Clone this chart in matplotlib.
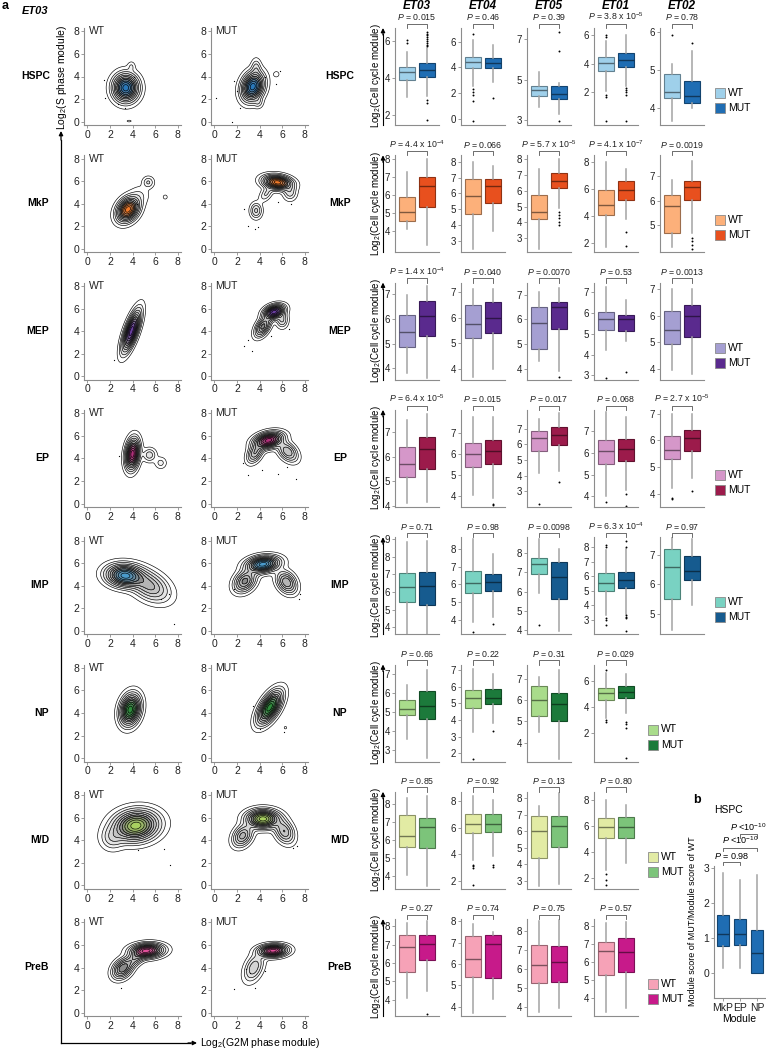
import numpy as np
import matplotlib.pyplot as plt
from matplotlib.patches import Rectangle, FancyArrowPatch
from matplotlib.colors import to_rgb
import matplotlib.transforms as mtransforms

plt.rcParams['font.family'] = ['Liberation Sans', 'DejaVu Sans']
plt.rcParams['mathtext.fontset'] = 'custom'
plt.rcParams['mathtext.rm'] = 'Liberation Sans'
plt.rcParams['mathtext.it'] = 'Liberation Sans:italic'
plt.rcParams['mathtext.bf'] = 'Liberation Sans:bold'

# ---------------------------------------------------------------------------
# data
# ---------------------------------------------------------------------------
patients = ['ET03', 'ET04', 'ET05', 'ET01', 'ET02']
cell_types = ['HSPC', 'MkP', 'MEP', 'EP', 'IMP', 'NP', 'M/D', 'PreB']

# box stats per patient: (whisker low, q1, median, q3, whisker high)
hspc_wt = [(2.95, 3.9, 4.3, 4.6, 5.4), (2.6, 3.92, 4.43, 4.82, 6.1), (3.65, 4.2, 4.5, 4.7, 5.35),
           (2.1, 3.5, 4.05, 4.5, 5.6), (3.65, 4.25, 4.42, 4.9, 5.15)]
hspc_mut = [(3.0, 4.07, 4.43, 4.8, 5.6), (2.9, 3.95, 4.35, 4.75, 5.7), (3.3, 4.05, 4.3, 4.7, 4.85),
            (2.4, 3.8, 4.25, 4.75, 6.0), (4.0, 4.12, 4.32, 4.7, 5.5)]
hspc_wt_out = [[6.05, 5.9], [6.6, 2.3, 2.1, 1.9, 1.4, -0.15], [], [6.0, 5.9, 1.8, 1.65, 0.0], [5.92]]
hspc_mut_out = [[6.5, 6.4, 6.3, 6.2, 6.1, 6.0, 5.9, 5.8, 5.7, 2.8, 2.65, 1.7], [1.6], [7.35, 6.4, 2.95],
                [2.3, 2.15, 2.0, 1.8, 0.0], [5.7]]
hspc_p = ['0.015', '0.46', '0.39', '3.8 x 10$^{-5}$', '0.78']
hspc_ylim = [(1.45, 6.7), (-0.45, 7.05), (2.75, 7.55), (-0.3, 6.5), (3.55, 6.1)]
hspc_ticks = [[2, 4, 6], [0, 2, 4, 6], [3, 5, 7], [2, 4, 6], [4, 5, 6]]

mkp_wt = [(4.1, 4.55, 5.05, 5.9, 7.25), (2.5, 4.7, 5.85, 6.9, 8.0), (2.3, 4.2, 4.65, 5.75, 7.4),
          (1.7, 4.1, 4.8, 5.95, 8.0), (4.1, 4.7, 5.8, 6.25, 6.85)]
mkp_mut = [(3.2, 5.3, 6.5, 7.0, 8.0), (3.65, 5.4, 6.45, 6.9, 7.75), (4.9, 6.2, 6.65, 7.1, 8.0),
           (3.8, 5.15, 5.95, 6.6, 7.45), (4.7, 6.05, 6.55, 6.8, 7.6)]
mkp_wt_out = [[], [], [], [], []]
mkp_mut_out = [[], [], [4.65, 4.45, 4.25, 4.05, 3.85], [2.8, 1.8], [4.5, 4.35, 4.2, 4.05]]
mkp_p = ['4.4 x 10$^{-4}$', '0.066', '5.7 x 10$^{-5}$', '4.1 x 10$^{-7}$', '0.0019']
mkp_ylim = [(2.8, 8.2), (2.3, 8.4), (2.1, 8.25), (1.3, 8.5), (3.9, 7.85)]
mkp_ticks = [[4, 5, 6, 7, 8], [3, 4, 5, 6, 7, 8], [3, 4, 5, 6, 7, 8], [2, 4, 6, 8], [5, 6, 7]]

mep_wt = [(3.8, 4.85, 5.45, 6.15, 6.95), (3.7, 5.2, 5.75, 6.5, 7.1), (4.3, 4.8, 5.85, 6.5, 7.1),
          (4.2, 5.2, 5.7, 6.05, 7.25), (3.95, 4.95, 5.45, 6.2, 7.0)]
mep_mut = [(3.6, 5.3, 6.1, 6.7, 7.3), (4.0, 5.4, 6.0, 6.6, 7.1), (3.9, 5.6, 6.5, 6.7, 7.3),
           (4.65, 5.15, 5.7, 5.9, 6.6), (3.8, 5.2, 6.0, 6.4, 7.0)]
mep_wt_out = [[], [], [], [2.9], []]
mep_mut_out = [[], [], [3.65], [3.15], []]
mep_p = ['1.4 x 10$^{-4}$', '0.040', '0.0070', '0.53', '0.0013']
mep_ylim = [(3.55, 7.45), (3.6, 7.35), (3.55, 7.5), (2.8, 7.45), (3.6, 7.25)]
mep_ticks = [[4, 5, 6, 7], [4, 5, 6, 7], [4, 5, 6, 7], [3, 4, 5, 6, 7], [4, 5, 6, 7]]

ep_wt = [(4.1, 5.15, 5.7, 6.4, 7.5), (4.05, 5.4, 6.0, 6.55, 7.75), (4.15, 5.55, 6.4, 6.85, 7.6),
         (4.0, 5.5, 6.1, 6.6, 7.9), (4.2, 5.3, 5.65, 6.15, 7.0)]
ep_mut = [(4.15, 5.5, 6.3, 6.8, 7.75), (3.9, 5.55, 6.15, 6.65, 7.75), (4.3, 5.95, 6.6, 7.1, 8.0),
          (4.3, 5.65, 6.2, 6.65, 7.65), (4.6, 5.6, 6.1, 6.4, 7.0)]
ep_wt_out = [[], [], [2.2], [3.75], [3.85, 3.78]]
ep_mut_out = [[], [3.65, 3.58], [3.6], [4.1, 3.55], [4.1]]
ep_p = ['6.4 x 10$^{-5}$', '0.015', '0.017', '0.068', '2.7 x 10$^{-5}$']
ep_ylim = [(3.95, 7.9), (3.5, 8.1), (2.0, 8.2), (3.5, 8.0), (3.5, 7.15)]
ep_ticks = [[4, 5, 6, 7], [4, 5, 6, 7], [3, 4, 5, 6, 7], [4, 5, 6, 7], [4, 5, 6, 7]]

imp_wt = [(3.5, 5.4, 6.3, 7.05, 8.8), (3.9, 5.5, 6.1, 6.75, 8.55), (5.9, 6.9, 7.4, 7.75, 8.7),
          (3.3, 5.0, 5.55, 6.2, 7.8), (4.45, 5.5, 6.6, 7.2, 7.7)]
imp_mut = [(3.35, 5.25, 6.35, 7.1, 8.9), (4.15, 5.6, 6.15, 6.6, 7.7), (3.95, 5.6, 6.75, 7.5, 8.2),
           (3.4, 5.2, 5.75, 6.3, 7.9), (5.3, 6.15, 6.45, 6.95, 7.55)]
imp_wt_out = [[], [3.35], [4.3], [8.15, 8.05, 3.1, 2.95, 2.65], []]
imp_mut_out = [[], [3.8], [], [8.45, 8.05, 3.3, 3.2, 3.1, 2.2], []]
imp_p = ['0.71', '0.98', '0.0098', '6.3 x 10$^{-4}$', '0.97']
imp_ylim = [(3.6, 9.1), (3.2, 8.65), (3.8, 8.8), (2.0, 8.7), (4.3, 7.6)]
imp_ticks = [[4, 5, 6, 7, 8, 9], [4, 5, 6, 7, 8], [4, 5, 6, 7, 8], [3, 4, 5, 6, 7, 8], [5, 6, 7]]

np_wt = [(3.6, 4.85, 5.15, 5.65, 6.4), (3.25, 4.75, 5.3, 5.8, 7.1), (4.5, 5.25, 6.0, 6.7, 7.1),
         (3.1, 4.55, 5.05, 5.5, 6.6)]
np_mut = [(2.6, 4.65, 5.3, 6.1, 7.2), (3.85, 4.95, 5.35, 5.85, 6.75), (3.2, 5.0, 5.85, 6.35, 7.45),
          (3.5, 4.7, 5.15, 5.65, 6.55)]
np_wt_out = [[], [1.65], [], [6.85, 2.95, 2.85]]
np_mut_out = [[], [3.35], [], [2.85, 2.7, 2.35, 0.0]]
np_p = ['0.66', '0.22', '0.31', '0.029']
np_ylim = [(2.4, 7.5), (1.5, 7.35), (3.1, 7.7), (-0.25, 7.3)]
np_ticks = [[3, 4, 5, 6, 7], [2, 3, 4, 5, 6, 7], [4, 5, 6, 7], [2, 4, 6]]

md_wt = [(4.05, 5.6, 6.2, 7.35, 8.3), (3.6, 5.6, 6.25, 7.0, 8.4), (2.65, 4.35, 6.0, 6.95, 7.55),
         (2.6, 5.05, 5.95, 6.6, 8.0)]
md_mut = [(3.45, 5.55, 6.7, 7.2, 8.4), (3.9, 5.7, 6.25, 7.05, 8.1), (2.8, 5.05, 6.3, 6.95, 8.3),
          (3.2, 5.1, 5.95, 6.7, 7.6)]
md_wt_out = [[], [3.2, 3.1, 2.95, 1.65], [], [2.3, 1.85, 1.5]]
md_mut_out = [[], [3.2, 3.05], [], []]
md_p = ['0.85', '0.92', '0.13', '0.80']
md_ylim = [(3.3, 8.65), (1.4, 8.7), (2.5, 8.4), (1.2, 8.6)]
md_ticks = [[4, 5, 6, 7, 8], [2, 4, 6, 8], [3, 4, 5, 6, 7, 8], [2, 4, 6, 8]]

preb_wt = [(4.1, 5.5, 6.9, 7.55, 8.2), (3.7, 5.4, 6.25, 7.3, 7.85), (3.7, 5.25, 6.2, 7.25, 8.5),
           (3.25, 5.3, 6.6, 7.15, 8.2)]
preb_mut = [(4.45, 6.15, 7.05, 7.55, 8.3), (4.35, 5.35, 6.95, 7.35, 7.5), (3.95, 5.3, 6.35, 7.2, 8.55),
            (3.45, 5.45, 6.55, 7.35, 8.25)]
preb_wt_out = [[], [], [], []]
preb_mut_out = [[3.2], [], [], []]
preb_p = ['0.27', '0.74', '0.75', '0.57']
preb_ylim = [(3.1, 8.4), (3.55, 8.1), (3.5, 8.6), (3.0, 8.4)]
preb_ticks = [[4, 5, 6, 7, 8], [4, 5, 6, 7, 8], [4, 5, 6, 7, 8], [4, 5, 6, 7, 8]]

# colours (WT, MUT, density core)
wt_colors = ['#9fd0ea', '#fcb07a', '#a59fd2', '#d597c9', '#79d2c2', '#a9dc8b', '#e2eba4', '#f6a2b7']
mut_colors = ['#1f6db3', '#e8501e', '#5a2a8e', '#9c1b4b', '#165b8f', '#1c7a3b', '#7cc47a', '#c71a8a']
core_colors = ['#2a77b8', '#f07a2a', '#6a3fa0', '#b0307a', '#4a9acb', '#2f8c3c', '#a8d060', '#e0509a']

# density components: (x, y, sd_x, sd_y, corr, peak)
hspc_blobs = [[(3.4, 3.0, 0.62, 0.68, 0.0, 1.0), (3.9, 4.9, 0.2, 0.25, 0.0, 0.06), (3.7, 0.05, 0.2, 0.08, 0.0, 0.03)],
              [(3.4, 3.1, 0.55, 0.7, 0.2, 1.0), (3.7, 4.8, 0.25, 0.45, 0.0, 0.12), (3.9, 1.7, 0.25, 0.3, 0.0, 0.08),
               (5.5, 4.2, 0.25, 0.25, 0.0, 0.03)]]
mkp_blobs = [[(3.6, 3.5, 0.55, 0.6, 0.3, 1.0), (5.4, 5.9, 0.3, 0.3, 0.0, 0.12), (6.9, 4.6, 0.15, 0.15, 0.0, 0.04),
              (4.7, 4.8, 0.5, 0.5, 0.0, 0.05)],
             [(3.7, 3.4, 0.3, 0.4, 0.0, 0.2), (5.6, 5.9, 0.7, 0.35, -0.2, 1.0), (6.7, 5.0, 0.35, 0.4, 0.0, 0.15),
              (4.6, 4.9, 0.35, 0.4, 0.5, 0.12)]]
mep_blobs = [[(3.9, 4.0, 0.45, 1.0, 0.7, 1.0)],
             [(4.3, 4.4, 0.4, 0.5, 0.5, 0.5), (5.3, 5.7, 0.5, 0.35, 0.3, 1.0), (6.0, 5.0, 0.3, 0.4, 0.0, 0.2)]]
ep_blobs = [[(4.0, 4.4, 0.35, 0.75, 0.2, 1.0), (5.5, 4.3, 0.35, 0.35, 0.0, 0.15), (6.5, 3.6, 0.3, 0.3, 0.0, 0.08)],
            [(3.6, 4.5, 0.4, 0.5, 0.4, 0.35), (4.8, 5.6, 0.7, 0.4, 0.3, 1.0), (6.5, 4.6, 0.5, 0.5, -0.4, 0.35)]]
imp_blobs = [[(3.3, 4.9, 0.9, 0.55, -0.1, 1.0), (5.5, 4.0, 1.0, 0.8, -0.4, 0.4)],
             [(2.7, 4.4, 0.55, 0.55, 0.3, 0.5), (4.3, 5.9, 0.8, 0.4, 0.2, 1.0), (6.4, 4.3, 0.5, 0.55, -0.3, 0.45)]]
np_blobs = [[(3.8, 4.3, 0.5, 0.75, 0.2, 1.0)],
            [(4.9, 4.5, 0.6, 0.8, 0.6, 1.0), (6.3, 2.7, 0.12, 0.12, 0.0, 0.03)]]
md_blobs = [[(4.3, 5.3, 1.1, 0.75, 0.1, 1.0), (2.2, 4.2, 0.6, 0.6, 0.0, 0.15)],
            [(2.5, 4.4, 0.5, 0.55, 0.3, 0.4), (4.3, 5.9, 0.8, 0.45, 0.0, 1.0), (6.2, 4.8, 0.5, 0.6, -0.3, 0.35)]]
preb_blobs = [[(3.1, 3.9, 0.5, 0.5, 0.3, 0.55), (5.3, 5.5, 0.8, 0.35, 0.1, 1.0), (4.2, 4.8, 0.6, 0.5, 0.6, 0.3)],
              [(5.2, 5.5, 0.7, 0.3, 0.1, 1.0), (3.5, 4.0, 0.5, 0.7, 0.4, 0.25)]]

# stray cells outside the contours (x, y)
hspc_dots = [[(1.5, 3.7), (2.7, 1.6), (1.6, 2.1), (4.1, 4.0), (3.3, 1.2)],
             [(0.1, 2.1), (1.7, 3.6), (2.0, 2.7), (5.5, 3.3), (5.8, 4.5), (2.3, 1.2), (1.6, 0.0), (4.5, 4.0)]]
mkp_dots = [[(4.4, 4.0)], [(3.0, 2.0), (3.6, 1.8), (3.9, 1.9), (6.8, 4.0), (5.6, 4.2), (2.6, 3.5)]]
mep_dots = [[(2.4, 1.4)], [(3.0, 3.2), (2.6, 2.7), (5.0, 3.6), (6.6, 4.2), (3.3, 2.2)]]
ep_dots = [[(2.8, 4.2)], [(3.0, 2.5), (4.2, 3.0), (5.6, 2.6), (6.4, 3.2), (7.2, 2.2), (2.5, 3.6)]]
imp_dots = [[(7.7, 0.6), (6.5, 2.8), (7.2, 3.3)], [(7.5, 2.8), (7.6, 3.3), (1.7, 3.7)]]
np_dots = [[], [(6.2, 2.3), (3.4, 4.6), (4.0, 2.6)]]
md_dots = [[(6.8, 3.2), (7.3, 1.8), (4.5, 3.1)], [(7.0, 3.3), (7.3, 3.5)]]
preb_dots = [[(3.0, 2.2)], [(1.7, 2.1), (3.6, 2.2), (4.5, 3.7), (3.2, 3.5), (2.8, 3.9)]]

# panel b: HSPC module score ratio
b_modules = ['MkP', 'EP', 'NP']
b_stats = [(0.15, 0.78, 1.13, 1.66, 2.85), (0.15, 0.8, 1.12, 1.55, 2.65), (0.0, 0.0, 0.58, 1.23, 2.8)]
b_pairs = [(1, 2), (1, 3), (2, 3)]
b_p = ['$P$ = 0.98', '$P$ <10$^{-10}$', '$P$ <10$^{-10}$']

rows = [
    (hspc_wt, hspc_mut, hspc_wt_out, hspc_mut_out, hspc_p, hspc_ylim, hspc_ticks, hspc_blobs, hspc_dots),
    (mkp_wt, mkp_mut, mkp_wt_out, mkp_mut_out, mkp_p, mkp_ylim, mkp_ticks, mkp_blobs, mkp_dots),
    (mep_wt, mep_mut, mep_wt_out, mep_mut_out, mep_p, mep_ylim, mep_ticks, mep_blobs, mep_dots),
    (ep_wt, ep_mut, ep_wt_out, ep_mut_out, ep_p, ep_ylim, ep_ticks, ep_blobs, ep_dots),
    (imp_wt, imp_mut, imp_wt_out, imp_mut_out, imp_p, imp_ylim, imp_ticks, imp_blobs, imp_dots),
    (np_wt, np_mut, np_wt_out, np_mut_out, np_p, np_ylim, np_ticks, np_blobs, np_dots),
    (md_wt, md_mut, md_wt_out, md_mut_out, md_p, md_ylim, md_ticks, md_blobs, md_dots),
    (preb_wt, preb_mut, preb_wt_out, preb_mut_out, preb_p, preb_ylim, preb_ticks, preb_blobs, preb_dots),
]

# ---------------------------------------------------------------------------
# layout helpers (pixel coordinates, origin top-left)
# ---------------------------------------------------------------------------
W, H = 766, 1050
fig = plt.figure(figsize=(W / 100, H / 100), dpi=100)
fig.patch.set_facecolor('white')

ROW0, STEP, AXH = 28, 127.3, 97
SPINE = '#8c8c8c'


def px_axes(x, y, w, h):
    return fig.add_axes([x / W, 1 - (y + h) / H, w / W, h / H])


def ftext(x, y, s, **kw):
    return fig.text(x / W, 1 - y / H, s, **kw)


def farrow(x0, y0, x1, y1):
    fig.add_artist(FancyArrowPatch((x0 / W, 1 - y0 / H), (x1 / W, 1 - y1 / H),
                                   transform=fig.transFigure, arrowstyle='-|>',
                                   mutation_scale=6, lw=0.9, color='black',
                                   shrinkA=0, shrinkB=0))


def darker(c, f):
    r, g, b = to_rgb(c)
    return (r * f, g * f, b * f)


def style_axes(ax, tick_size):
    for s in ('top', 'right'):
        ax.spines[s].set_visible(False)
    for s in ('left', 'bottom'):
        ax.spines[s].set_color(SPINE)
        ax.spines[s].set_linewidth(0.8)
    ax.tick_params(length=2, width=0.6, color=SPINE, labelsize=tick_size, pad=1.5, labelcolor='#222222')


# ---------------------------------------------------------------------------
# a: density panels (ET03)
# ---------------------------------------------------------------------------
gx = np.linspace(-0.3, 8.3, 220)
GX, GY = np.meshgrid(gx, gx)
levels = np.array([0.02, 0.06, 0.11, 0.18, 0.26, 0.35, 0.45, 0.56, 0.68, 0.8, 0.92, 1.01])


def density(blobs):
    Z = np.zeros_like(GX)
    for mx, my, sx, sy, r, w in blobs:
        dx = (GX - mx) / sx
        dy = (GY - my) / sy
        q = (dx ** 2 - 2 * r * dx * dy + dy ** 2) / (1 - r ** 2)
        Z += w * np.exp(-0.5 * q)
    return Z / Z.max()


for i, row in enumerate(rows):
    top = ROW0 + i * STEP
    blobs, dots = row[7], row[8]
    for j, (left, lab) in enumerate(((84, 'WT'), (211, 'MUT'))):
        ax = px_axes(left, top, 97, AXH)
        Z = density(blobs[j])
        core = to_rgb(core_colors[i])
        fills = []
        n = len(levels) - 1
        for k in range(n):
            t = k / (n - 1)
            if t < 0.1:
                fills.append((1, 1, 1, 0))
            elif t < 0.6:
                g = 0.4
                fills.append((g, g, g, 0.08 + 1.0 * (t - 0.1)))
            else:
                u = (t - 0.6) / 0.4
                fills.append((0.3 * (1 - u) + core[0] * u, 0.3 * (1 - u) + core[1] * u,
                              0.3 * (1 - u) + core[2] * u, 0.65 + 0.35 * u))
        ax.contourf(GX, GY, Z, levels=levels, colors=fills)
        ax.contour(GX, GY, Z, levels=levels[:-1], colors='black', linewidths=0.45)
        if dots[j]:
            d = np.array(dots[j])
            ax.plot(d[:, 0], d[:, 1], 'o', ms=0.9, color='black', mec='none')
        ax.set_xlim(-0.3, 8.3)
        ax.set_ylim(-0.3, 8.3)
        ax.set_xticks([0, 2, 4, 6, 8])
        ax.set_yticks([0, 2, 4, 6, 8])
        style_axes(ax, 7.5)
        ax.text(0.1, 8.0, lab, fontsize=7.5, va='center', ha='left', color='#222222')
    ftext(50 if i == 0 else 49, top + 48, cell_types[i], fontsize=7.5, fontweight='bold',
          ha='right', va='center')

ftext(2, 6, 'a', fontsize=9, fontweight='bold', va='center')
ftext(22, 11, 'ET03', fontsize=8, fontweight='bold', fontstyle='italic', va='center')
ftext(62, 77, 'Log$_2$(S phase module)', fontsize=7.5, rotation=90, ha='center', va='center')
fig.add_artist(plt.Line2D([61 / W, 61 / W], [1 - 1043 / H, 1 - 140 / H], transform=fig.transFigure,
                          color='black', lw=0.9))
farrow(61, 140, 61, 131)
fig.add_artist(plt.Line2D([61 / W, 190 / W], [1 - 1043 / H, 1 - 1043 / H], transform=fig.transFigure,
                          color='black', lw=0.9))
farrow(188, 1043, 197, 1043)
ftext(200, 1043, 'Log$_2$(G2M phase module)', fontsize=7.5, va='center', ha='left')

# ---------------------------------------------------------------------------
# a: box plots per patient
# ---------------------------------------------------------------------------
box_lefts = [395, 461, 527, 594, 660]
BOXW = 44

for i, row in enumerate(rows):
    wt, mut, wt_out, mut_out, pvals, ylims, ticks = row[:7]
    top = ROW0 + i * STEP
    for j in range(len(wt)):
        ax = px_axes(box_lefts[j], top, BOXW, AXH)
        st = [dict(whislo=wt[j][0], q1=wt[j][1], med=wt[j][2], q3=wt[j][3], whishi=wt[j][4], fliers=wt_out[j]),
              dict(whislo=mut[j][0], q1=mut[j][1], med=mut[j][2], q3=mut[j][3], whishi=mut[j][4],
                   fliers=mut_out[j])]
        bp = ax.bxp(st, positions=[1, 2], widths=0.78, patch_artist=True, showcaps=False,
                    whiskerprops=dict(color='#a3a3a3', lw=1.1),
                    flierprops=dict(marker='o', markersize=1.4, markerfacecolor='black',
                                    markeredgecolor='none', linestyle='none'),
                    medianprops=dict(lw=1.0))
        for patch, med, c in zip(bp['boxes'], bp['medians'], (wt_colors[i], mut_colors[i])):
            patch.set_facecolor(c)
            patch.set_edgecolor(darker(c, 0.62))
            patch.set_linewidth(0.8)
            med.set_color(darker(c, 0.5))
        ax.set_xlim(0.4, 2.6)
        ax.set_ylim(*ylims[j])
        ax.set_yticks(ticks[j])
        ax.set_xticks([])
        style_axes(ax, 7)
        tr = mtransforms.blended_transform_factory(ax.transData, ax.transAxes)
        ax.plot([1, 1, 2, 2], [1.0, 1.045, 1.045, 1.0], transform=tr, color='#555555', lw=0.6, clip_on=False)
        ax.text(1.5, 1.058, '$P$ = ' + pvals[j], transform=tr, fontsize=6.3, ha='center', va='bottom',
                color='#222222')
        if i == 0:
            ftext(box_lefts[j] + 22, 6, patients[j], fontsize=8.5, fontweight='bold', fontstyle='italic',
                  ha='center', va='center')
    # row label, y label with arrow
    ftext(340, top + 48, cell_types[i], fontsize=7.5, fontweight='bold', ha='center', va='center')
    ftext(376, top + 48, 'Log$_2$(Cell cycle module)', fontsize=7, rotation=90, ha='center', va='center')
    fig.add_artist(plt.Line2D([383 / W, 383 / W], [1 - (top + AXH) / H, 1 - (top + 6) / H],
                              transform=fig.transFigure, color='black', lw=0.8))
    farrow(383, top + 7, 383, top)
    # legend
    lx = 715 if len(wt) == 5 else 648
    for k, (lab, c) in enumerate((('WT', wt_colors[i]), ('MUT', mut_colors[i]))):
        y0 = top + 60 + 15 * k
        fig.add_artist(Rectangle((lx / W, 1 - (y0 + 10) / H), 10 / W, 10 / H, transform=fig.transFigure,
                                 facecolor=c, edgecolor='#8a8a8a', lw=0.6))
        ftext(lx + 13, y0 + 5, lab, fontsize=7.5, va='center', ha='left')

# ---------------------------------------------------------------------------
# b: HSPC module score ratio
# ---------------------------------------------------------------------------
axb = px_axes(714, 866, 51, 132)
st = [dict(whislo=s[0], q1=s[1], med=s[2], q3=s[3], whishi=s[4], fliers=[]) for s in b_stats]
bp = axb.bxp(st, positions=[1, 2, 3], widths=0.72, patch_artist=True, showcaps=False,
             whiskerprops=dict(color='#a3a3a3', lw=1.1), medianprops=dict(lw=1.0))
for patch, med in zip(bp['boxes'], bp['medians']):
    patch.set_facecolor('#1f6db3')
    patch.set_edgecolor(darker('#1f6db3', 0.62))
    patch.set_linewidth(0.8)
    med.set_color(darker('#1f6db3', 0.5))
axb.set_xlim(0.47, 3.47)
axb.set_ylim(-0.71, 3.06)
axb.set_yticks([0, 1, 2, 3])
axb.set_xticks([1, 2, 3])
axb.set_xticklabels(b_modules)
style_axes(axb, 7.5)
axb.set_xlabel('Module', fontsize=7.5, labelpad=1)
axb.set_ylabel('Module score of MUT/Module score of WT', fontsize=6.5, labelpad=2)
axb.yaxis.set_label_coords(-0.33, 0.58)
trb = mtransforms.blended_transform_factory(axb.transData, axb.transAxes)
for (a, b_), p, yb in zip(b_pairs, b_p, (1.03, 1.14, 1.24)):
    axb.plot([a, a, b_, b_], [yb - 0.025, yb, yb, yb - 0.025], transform=trb, color='#555555', lw=0.6,
             clip_on=False)
    axb.text((a + b_) / 2, yb + 0.008, p, transform=trb, fontsize=6.5, ha='center', va='bottom')
ftext(693, 800, 'b', fontsize=9, fontweight='bold', va='center')
ftext(714, 810, 'HSPC', fontsize=7.5, va='center')

fig.savefig('out.png', dpi=100, facecolor='white')
